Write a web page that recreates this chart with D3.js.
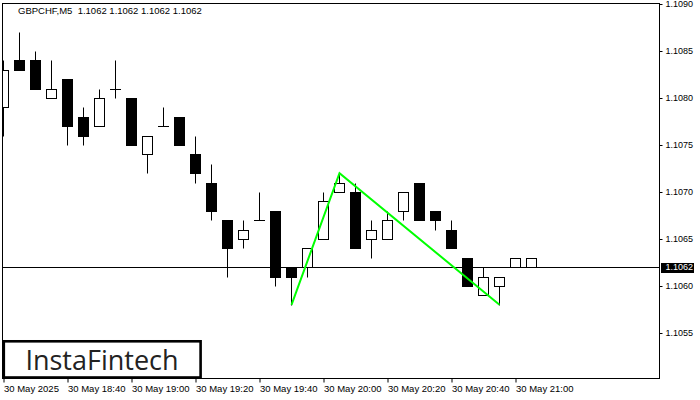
<!DOCTYPE html>
<html>
<head>
<meta charset="utf-8">
<script src="https://cdn.jsdelivr.net/npm/d3@7"></script>
<style>
  html, body { margin: 0; padding: 0; background: #fff; }
  svg { display: block; }
  .lbl { font-family: "Liberation Sans", Arial, sans-serif; }
</style>
</head>
<body>
<svg id="chart" width="700" height="400"></svg>
<script>
// ---- data (GBPCHF, M5) ----
const symbolTitle = "GBPCHF,M5  1.1062 1.1062 1.1062 1.1062";
const opens  = [1.1079,1.1084,1.1084,1.1080,1.1082,1.1078,1.1077,1.1081,1.1080,1.1074,1.1077,1.1078,1.1074,1.1071,1.1067,1.1065,1.1067,1.1068,1.1062,1.1062,1.1065,1.1070,1.1070,1.1065,1.1065,1.1068,1.1071,1.1068,1.1066,1.1063,1.1059,1.1060,1.1062,1.1062];
const highs  = [1.1084,1.1087,1.1085,1.1084,1.1082,1.1079,1.1081,1.1084,1.1080,1.1076,1.1079,1.1078,1.1076,1.1073,1.1067,1.1067,1.1070,1.1068,1.1062,1.1064,1.1070,1.1072,1.1071,1.1067,1.1068,1.1070,1.1071,1.1068,1.1067,1.1063,1.1062,1.1061,1.1063,1.1063];
const lows   = [1.1076,1.1083,1.1081,1.1080,1.1075,1.1075,1.1077,1.1080,1.1075,1.1072,1.1077,1.1075,1.1071,1.1067,1.1061,1.1064,1.1067,1.1060,1.1058,1.1061,1.1065,1.1070,1.1064,1.1063,1.1065,1.1067,1.1067,1.1066,1.1064,1.1060,1.1059,1.1058,1.1062,1.1062];
const closes = [1.1083,1.1083,1.1081,1.1081,1.1077,1.1076,1.1080,1.1081,1.1075,1.1076,1.1077,1.1075,1.1072,1.1068,1.1064,1.1066,1.1067,1.1061,1.1061,1.1064,1.1069,1.1071,1.1064,1.1066,1.1067,1.1070,1.1067,1.1067,1.1064,1.1060,1.1061,1.1061,1.1063,1.1063];
const currentPrice = 1.1062;
const yTickValues = [1.1055,1.1060,1.1065,1.1070,1.1075,1.1080,1.1085,1.1090];
const xTickIndex  = [0,4,8,12,16,20,24,28,32];
const xTickLabels = ["30 May 2025","30 May 18:40","30 May 19:00","30 May 19:20","30 May 19:40","30 May 20:00","30 May 20:20","30 May 20:40","30 May 21:00"];
// pattern (green) points: [bar index, price]
const patternIndex  = [18, 21, 31];
const patternPrices = [1.1058, 1.1072, 1.1058];
const logoText = "InstaFintech";

// ---- layout ----
const svg = d3.select("#chart");
const L = 2.5, R = 659.5, T = 3.5, B = 378.5;
const x = d3.scaleLinear().domain([0, 41]).range([3, 659]);
const y = d3.scaleLinear().domain([1.1055, 1.1090]).range([333, 4]);
const snap = v => Math.round(v) + 0.5;

svg.append("rect").attr("width", 700).attr("height", 400).attr("fill", "#fff");

svg.append("defs").append("clipPath").attr("id", "plot")
  .append("rect").attr("x", L).attr("y", T).attr("width", R - L).attr("height", B - T);

const plot = svg.append("g").attr("clip-path", "url(#plot)");

const bars = d3.range(opens.length).map(i => ({
  i, o: opens[i], h: highs[i], l: lows[i], c: closes[i]
}));

// price line
plot.append("line")
  .attr("x1", L).attr("x2", R)
  .attr("y1", snap(y(currentPrice))).attr("y2", snap(y(currentPrice)))
  .attr("stroke", "#000").attr("stroke-width", 1);

// wicks
plot.selectAll("line.wick").data(bars).join("line")
  .attr("class", "wick")
  .attr("x1", d => snap(x(d.i))).attr("x2", d => snap(x(d.i)))
  .attr("y1", d => snap(y(d.h))).attr("y2", d => snap(y(d.l)))
  .attr("stroke", "#000").attr("stroke-width", 1);

// bodies
const bodyBars = bars.filter(d => Math.abs(d.o - d.c) > 1e-9);
plot.selectAll("rect.body").data(bodyBars).join("rect")
  .attr("class", "body")
  .attr("x", d => snap(x(d.i)) - 5)
  .attr("width", 10)
  .attr("y", d => snap(y(Math.max(d.o, d.c))))
  .attr("height", d => snap(y(Math.min(d.o, d.c))) - snap(y(Math.max(d.o, d.c))))
  .attr("fill", d => d.c > d.o ? "#fff" : "#000")
  .attr("stroke", "#000").attr("stroke-width", 1);

// doji
const dojiBars = bars.filter(d => Math.abs(d.o - d.c) <= 1e-9);
plot.selectAll("line.doji").data(dojiBars).join("line")
  .attr("class", "doji")
  .attr("x1", d => snap(x(d.i)) - 5.5).attr("x2", d => snap(x(d.i)) + 5.5)
  .attr("y1", d => snap(y(d.o))).attr("y2", d => snap(y(d.o)))
  .attr("stroke", "#000").attr("stroke-width", 1);

// pattern line
const patternPts = patternIndex.map((idx, k) => [x(idx) + 0.5, y(patternPrices[k])]);
plot.append("path")
  .attr("d", d3.line()(patternPts))
  .attr("fill", "none").attr("stroke", "#00ff00").attr("stroke-width", 2)
  .attr("stroke-linejoin", "miter");

// frame
svg.append("rect")
  .attr("x", L).attr("y", T).attr("width", R - L).attr("height", B - T)
  .attr("fill", "none").attr("stroke", "#000").attr("stroke-width", 1);

// y axis
const yAxis = d3.axisRight(y).tickValues(yTickValues).tickSize(3).tickPadding(3)
  .tickFormat(d3.format(".4f"));
const gy = svg.append("g").attr("transform", `translate(${R},0)`).call(yAxis);
gy.select(".domain").remove();
gy.selectAll(".tick line").attr("stroke", "#000");
gy.selectAll(".tick text").attr("class", "lbl").attr("font-size", 9).attr("fill", "#000");

// current price label
const cpY = snap(y(currentPrice));
svg.append("rect").attr("x", 661).attr("y", cpY - 4.5).attr("width", 33).attr("height", 10).attr("fill", "#000");
svg.append("text").attr("class", "lbl")
  .attr("x", R + 6).attr("y", cpY).attr("dy", "0.32em")
  .attr("font-size", 9).attr("fill", "#fff").text(d3.format(".4f")(currentPrice));

// x axis
const xAxis = d3.axisBottom(x).tickValues(xTickIndex).tickSize(4).tickPadding(3)
  .tickFormat((d, k) => xTickLabels[k]);
const gx = svg.append("g").attr("transform", `translate(0.5,${B})`).call(xAxis);
gx.select(".domain").remove();
gx.selectAll(".tick line").attr("stroke", "#000");
gx.selectAll(".tick text").attr("class", "lbl").attr("font-size", 9.5)
  .attr("text-anchor", "start").attr("x", 0).attr("fill", "#000");

// title
svg.append("text").attr("class", "lbl")
  .attr("x", 18).attr("y", 14).attr("font-size", 9.5).attr("fill", "#000")
  .attr("xml:space", "preserve").style("white-space", "pre")
  .text(symbolTitle);

// logo
svg.append("rect").attr("x", 3.8).attr("y", 341.3).attr("width", 196.8).attr("height", 36.2)
  .attr("fill", "#fff").attr("stroke", "#000").attr("stroke-width", 2.6);
svg.append("text")
  .attr("x", 102).attr("y", 369.5).attr("text-anchor", "middle")
  .attr("font-family", "'Open Sans', sans-serif").attr("font-size", 27).attr("font-weight", 500)
  .attr("fill", "#222").text(logoText);
</script>
</body>
</html>
